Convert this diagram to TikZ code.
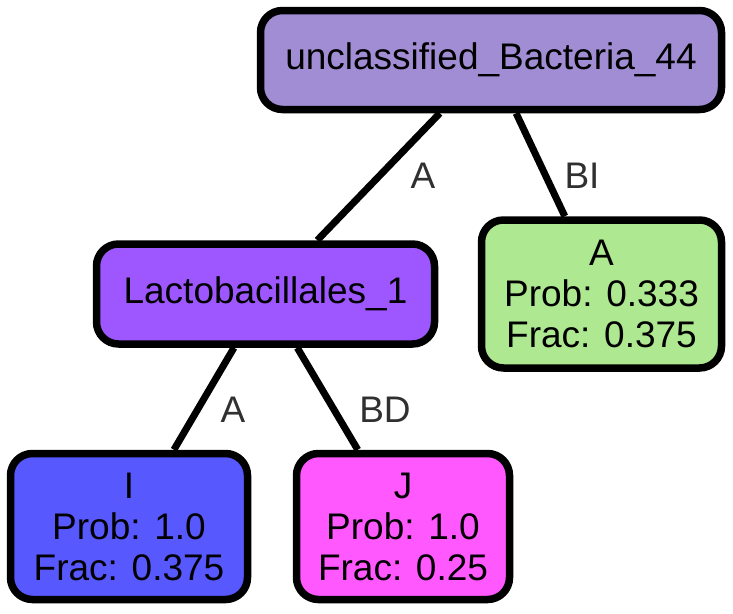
\documentclass[tikz,border=0pt]{standalone}
\usepackage{fontspec}
\setmainfont{Liberation Sans}
\definecolor{rootfill}{RGB}{161,141,212}
\definecolor{lactofill}{RGB}{158,87,255}
\definecolor{ifill}{RGB}{88,88,255}
\definecolor{jfill}{RGB}{255,88,255}
\definecolor{afill}{RGB}{174,232,145}
\definecolor{labelgray}{RGB}{48,48,48}
\begin{document}
\begin{tikzpicture}[x=1pt,y=-1pt,
  taxon/.style={draw=black, line width=7.5pt, rounded corners=22pt,
    inner sep=0pt, align=center,
    font=\fontsize{37}{41}\selectfont},
  edgelabel/.style={text=labelgray, anchor=base, inner sep=0pt,
    font=\fontsize{37}{41}\selectfont},
  link/.style={line width=7pt}]
  \useasboundingbox (0,0) rectangle (733,613);

  % tree nodes
  \node[taxon, fill=rootfill, minimum width=461pt, minimum height=99pt]
    (root) at (491,60) {unclassified\_Bacteria\_44};
  \node[taxon, fill=lactofill, minimum width=338pt, minimum height=100pt]
    (lacto) at (265.5,294) {Lactobacillales\_1};
  \node[taxon, fill=afill, minimum width=240pt, minimum height=148pt]
    (leafA) at (601.5,294) {A\\Prob: 0.333\\Frac: 0.375};
  \node[taxon, fill=ifill, minimum width=237pt, minimum height=146pt]
    (leafI) at (129,526.5) {I\\Prob: 1.0\\Frac: 0.375};
  \node[taxon, fill=jfill, minimum width=213pt, minimum height=146pt]
    (leafJ) at (403,526.5) {J\\Prob: 1.0\\Frac: 0.25};

  % connectors
  \draw[link] (root) -- (lacto);
  \draw[link] (root) -- (leafA);
  \draw[link] (lacto) -- (leafI);
  \draw[link] (lacto) -- (leafJ);

  % connector labels
  \node[edgelabel] (lblRL) at (423,188) {A};
  \node[edgelabel] (lblRA) at (582,188) {BI};
  \node[edgelabel] (lblLI) at (233,422) {A};
  \node[edgelabel] (lblLJ) at (385,422) {BD};
\end{tikzpicture}
\end{document}
